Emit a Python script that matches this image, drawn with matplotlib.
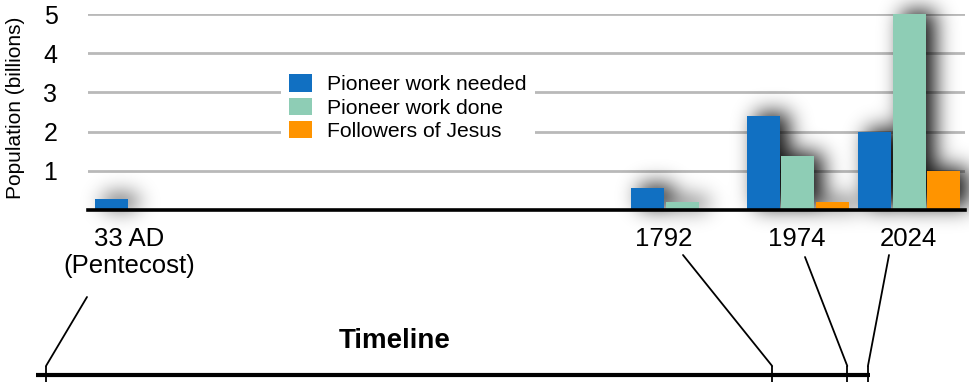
import matplotlib.pyplot as plt
import numpy as np
from matplotlib.patches import ConnectionPatch

plt.rcParams["font.family"] = ["Liberation Sans", "DejaVu Sans"]

# population in billions per period
periods = ["33 AD\n(Pentecost)", "1792", "1974", "2024"]
years = [33, 1792, 1974, 2024]
needed = [0.28, 0.56, 2.4, 2.0]
done = [0.0, 0.2, 1.38, 5.0]
followers = [0.0, 0.0, 0.2, 1.0]
series_names = ["Pioneer work needed", "Pioneer work done", "Followers of Jesus"]
series_colors = ["#1170c2", "#8ecdb5", "#ff9400"]
yticks = [1, 2, 3, 4, 5]

# layout (bar units along x, pixels for the annotation overlay)
group_x = np.array([1.68, 17.23, 20.57, 23.81])
label_x = [1.19, 16.70, 20.55, 23.77]
label_ends = [(87, 297), (683, 255), (805, 257), (889, 255)]
W, H = 970, 382


def blur(a, sigma):
    r = int(3 * sigma)
    k = np.exp(-0.5 * (np.arange(-r, r + 1) / sigma) ** 2)
    k /= k.sum()
    a = np.apply_along_axis(lambda v: np.convolve(v, k, mode="same"), 0, a)
    a = np.apply_along_axis(lambda v: np.convolve(v, k, mode="same"), 1, a)
    return a


def bar_shadow(ax, patches, dx=9, dy=3, sigma=10.5, strength=0.95):
    mask = np.zeros((H, W))
    for p in patches:
        if p.get_height() <= 0:
            continue
        (x0, y0), (x1, y1) = ax.transData.transform(
            [(p.get_x(), p.get_y()), (p.get_x() + p.get_width(), p.get_y() + p.get_height())]
        )
        c0, c1 = int(round(x0 + dx)), int(round(x1 + dx))
        r0, r1 = int(round(H - y1 - dy)), int(round(H - y0 - dy))
        mask[max(r0, 0):r1, max(c0, 0):c1] = 1.0
    rgba = np.zeros((H, W, 4))
    rgba[..., 3] = np.clip(blur(mask, sigma) * strength, 0, 1)
    inv = ax.transData.inverted()
    (ex0, ey0), (ex1, ey1) = inv.transform([(0, 0), (W, H)])
    xlim, ylim = ax.get_xlim(), ax.get_ylim()
    ax.imshow(rgba, extent=(ex0, ex1, ey0, ey1), origin="upper", aspect="auto",
              interpolation="nearest", zorder=1.5, clip_on=False)
    ax.set_xlim(xlim)
    ax.set_ylim(ylim)


fig = plt.figure(figsize=(W / 100, H / 100), dpi=100)
ax = fig.add_axes([88 / W, 172 / H, 877 / W, 196 / H], zorder=1)
ax.set_facecolor("none")
ax.set_xlim(0, 877 / 34.5)
ax.set_ylim(0, 5)

bars = []
for offset, values, name, color in zip([-1, 0, 1], [needed, done, followers],
                                       series_names, series_colors):
    bars.append(ax.bar(group_x + offset * 1.0, values, width=0.956, color=color,
                       label=name, zorder=2))

bar_shadow(ax, [p for b in bars for p in b.patches])

ax.set_yticks(yticks)
ax.yaxis.grid(True, color="#b9b9b9", linewidth=2.0)
ax.set_axisbelow(True)
ax.axhline(0, color="black", linewidth=2.6, zorder=3, clip_on=False)
for s in ax.spines.values():
    s.set_visible(False)
ax.tick_params(axis="y", length=0, pad=22, labelsize=18)
ax.set_xticks(label_x, periods)
ax.tick_params(axis="x", length=0, pad=12, labelsize=18.5)

fig.text(16 / W, 1 - 108 / H, "Population (billions)", rotation=90,
         ha="center", va="center", fontsize=15)

ax.legend(loc="upper left", bbox_to_anchor=(281 / W, 1 - 66 / H),
          bbox_transform=fig.transFigure, frameon=True, fancybox=False,
          edgecolor="none", facecolor="white", framealpha=1, fontsize=15.2,
          handlelength=1.05, handleheight=0.9, handletextpad=0.75,
          labelspacing=0.15, borderpad=0.4, borderaxespad=0)

# timeline along the bottom, x in years
tl = fig.add_axes([36 / W, 0, 834 / W, 30 / H], zorder=2)
tl.set_xlim(8.8, 2029)
tl.set_ylim(0, 30)
tl.axis("off")
tl.axhline(7, color="black", linewidth=3)
tl.vlines(years, 0, 16, color="black", linewidth=1.3)

ov = fig.add_axes([0, 0, 1, 1], zorder=3)
ov.set_xlim(0, W)
ov.set_ylim(H, 0)
ov.axis("off")
ov.text(395, 341, "Timeline", ha="center", va="center", fontsize=20,
        fontweight="bold")

for yr, end in zip(years, label_ends):
    con = ConnectionPatch(xyA=(yr, 16), coordsA=tl.transData, xyB=end,
                          coordsB=ov.transData, color="black", linewidth=1.3)
    fig.add_artist(con)

fig.savefig("out.png", dpi=100)
